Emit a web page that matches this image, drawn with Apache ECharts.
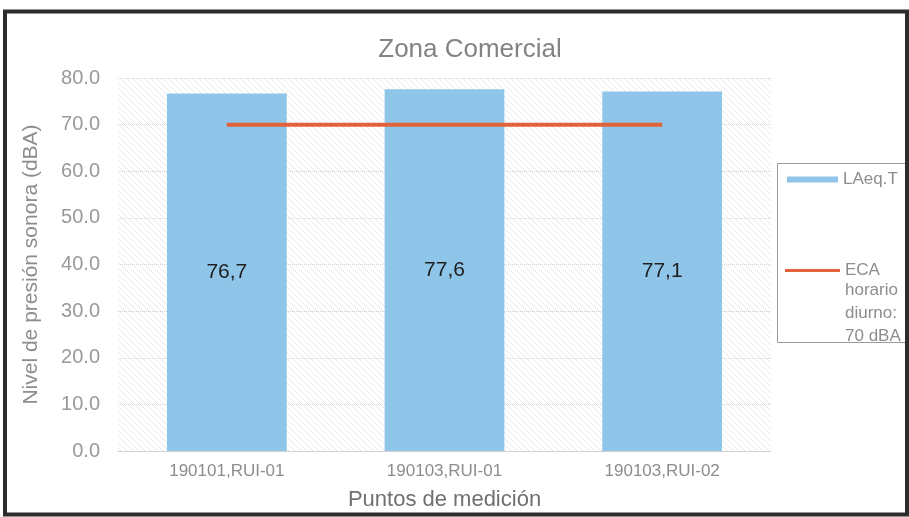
<!DOCTYPE html>
<html>
	<head>
		<meta charset="utf-8">
		<title></title>
		<style>
			body{margin:0;background:#fff;}
			#main{
				width: 909px;
				height: 517px;
			}
		</style>
	</head>
	<body>
		<div id="main"></div>
		<script src="https://cdn.jsdelivr.net/npm/echarts@6/dist/echarts.min.js"></script>
		<script>
			// datos
			var puntos=["190101,RUI-01","190103,RUI-01","190103,RUI-02"]
			var laeq=[76.7,77.6,77.1]
			var eca=[70,70,70]
			var ejeY=[0,80,10]   // min, max, intervalo

			// trama diagonal del fondo
			var cv=document.createElement('canvas')
			cv.width=6;cv.height=6
			var ctx=cv.getContext('2d')
			ctx.strokeStyle='rgba(200,200,200,0.4)'
			ctx.lineWidth=1
			ctx.beginPath();ctx.moveTo(0,0);ctx.lineTo(6,6);ctx.stroke()

			var gris='#8d8d8d'
			var fuente='Liberation Sans'

			var mychart=echarts.init(document.getElementById("main"))
			var option={
				animation:false,
				title:{
					text:"Zona Comercial",left:465,top:32,textAlign:'center',
					textStyle:{color:'#838383',fontSize:26,fontWeight:'normal',fontFamily:fuente}
				},
				grid:{left:118,right:138,top:78,bottom:66,show:true,borderWidth:0,
					outerBoundsMode:'none',containLabel:false,
					backgroundColor:{image:cv,repeat:'repeat'}},
				legend:[
					{data:[{name:'LAeq.T',icon:'rect'}],orient:'vertical',left:782,top:166,
						itemWidth:51,itemHeight:6,itemGap:4,
						textStyle:{color:gris,fontSize:17,fontFamily:fuente}},
					{data:[{name:'ECA horario diurno: 70 dBA',icon:'rect'}],left:780,top:257,
						itemWidth:55,itemHeight:3,itemGap:4,
						formatter:function(){return 'ECA'},
						textStyle:{color:gris,fontSize:17,fontFamily:fuente}}
				],
				graphic:[
					{type:'rect',shape:{x:777.5,y:163.5,width:160,height:179},
						style:{fill:'none',stroke:'#999',lineWidth:1}},
					{type:'text',left:845,top:279,
						style:{text:'horario\ndiurno:\n70 dBA',fill:gris,fontSize:17,lineHeight:23,fontFamily:fuente}},
					{type:'rect',shape:{x:5,y:11.5,width:902,height:503},
						style:{fill:'none',stroke:'#2a2d2b',lineWidth:4}}
				],
				xAxis:{
					type:'category',data:puntos,
					name:'Puntos de medición',nameLocation:'middle',nameGap:38,
					nameTextStyle:{color:'#707070',fontSize:22,fontFamily:fuente},
					axisLine:{lineStyle:{color:'#d0d0d0'}},
					axisTick:{show:false},
					axisLabel:{color:gris,fontSize:17,margin:12,fontFamily:fuente}
				},
				yAxis:{
					type:'value',min:ejeY[0],max:ejeY[1],interval:ejeY[2],
					name:'Nivel de presión sonora (dBA)',nameLocation:'middle',nameGap:76,
					nameTextStyle:{color:gris,fontSize:21,fontFamily:fuente},
					axisLabel:{color:'#999',fontSize:20,margin:18,fontFamily:fuente,
						formatter:function(v){return v.toFixed(1)}},
					splitLine:{lineStyle:{color:'#d2d2d2',type:'dotted'}}
				},
				series:[
					{
						name:'LAeq.T',type:'bar',data:laeq,barWidth:'55%',
						itemStyle:{color:'#8ec5e8'},
						label:{show:true,position:'inside',color:'#1f1f1f',fontSize:21,fontFamily:fuente,
							formatter:function(p){return String(p.value).replace('.',',')}}
					},
					{
						name:'ECA horario diurno: 70 dBA',type:'line',data:eca,
						symbol:'none',lineStyle:{color:'#e2623c',width:4},itemStyle:{color:'#e2623c'}
					}
				]
			};
			mychart.setOption(option);
		</script>
	</body>
</html>
